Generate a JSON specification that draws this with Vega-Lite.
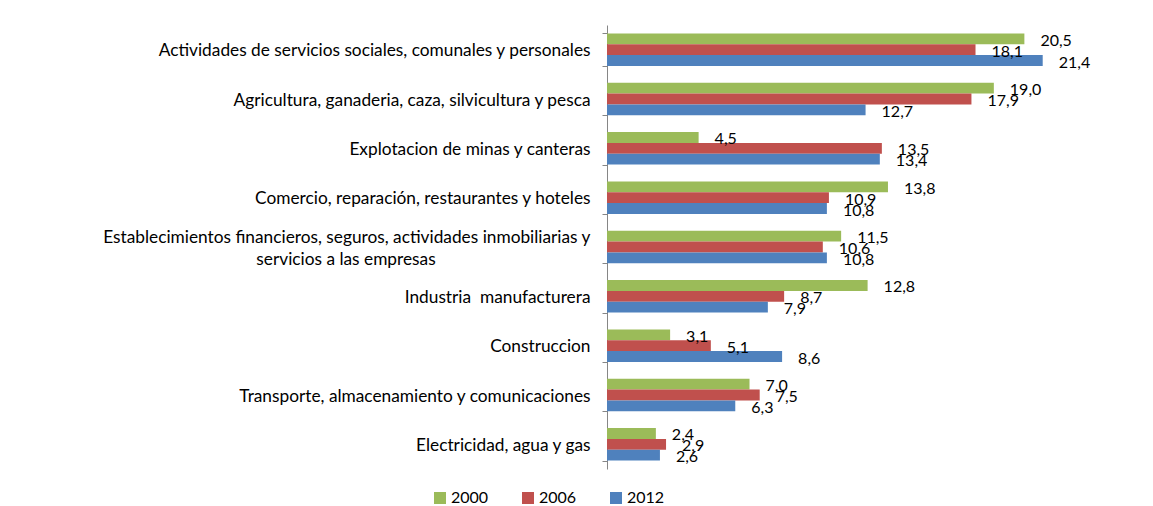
{
  "$schema": "https://vega.github.io/schema/vega-lite/v6.json",
  "width": 509,
  "height": 444,
  "autosize": {"type": "none"},
  "padding": {"left": 607, "top": 25, "right": 37, "bottom": 37},
  "config": {
    "view": {"stroke": null},
    "font": "Lato",
    "locale": {"number": {"decimal": ",", "thousands": ".", "grouping": [3], "currency": ["", " €"]}}
  },
  "data": {
    "values": [
      {"sector": "Actividades de servicios sociales, comunales y personales", "year": "2000", "value": 20.5},
      {"sector": "Actividades de servicios sociales, comunales y personales", "year": "2006", "value": 18.1},
      {"sector": "Actividades de servicios sociales, comunales y personales", "year": "2012", "value": 21.4},
      {"sector": "Agricultura, ganaderia, caza, silvicultura y pesca", "year": "2000", "value": 19.0},
      {"sector": "Agricultura, ganaderia, caza, silvicultura y pesca", "year": "2006", "value": 17.9},
      {"sector": "Agricultura, ganaderia, caza, silvicultura y pesca", "year": "2012", "value": 12.7},
      {"sector": "Explotacion de minas y canteras", "year": "2000", "value": 4.5},
      {"sector": "Explotacion de minas y canteras", "year": "2006", "value": 13.5},
      {"sector": "Explotacion de minas y canteras", "year": "2012", "value": 13.4},
      {"sector": "Comercio, reparación, restaurantes y hoteles", "year": "2000", "value": 13.8},
      {"sector": "Comercio, reparación, restaurantes y hoteles", "year": "2006", "value": 10.9},
      {"sector": "Comercio, reparación, restaurantes y hoteles", "year": "2012", "value": 10.8},
      {"sector": "Establecimientos financieros, seguros, actividades inmobiliarias y servicios a las empresas", "year": "2000", "value": 11.5},
      {"sector": "Establecimientos financieros, seguros, actividades inmobiliarias y servicios a las empresas", "year": "2006", "value": 10.6},
      {"sector": "Establecimientos financieros, seguros, actividades inmobiliarias y servicios a las empresas", "year": "2012", "value": 10.8},
      {"sector": "Industria  manufacturera", "year": "2000", "value": 12.8},
      {"sector": "Industria  manufacturera", "year": "2006", "value": 8.7},
      {"sector": "Industria  manufacturera", "year": "2012", "value": 7.9},
      {"sector": "Construccion", "year": "2000", "value": 3.1},
      {"sector": "Construccion", "year": "2006", "value": 5.1},
      {"sector": "Construccion", "year": "2012", "value": 8.6},
      {"sector": "Transporte, almacenamiento y comunicaciones", "year": "2000", "value": 7.0},
      {"sector": "Transporte, almacenamiento y comunicaciones", "year": "2006", "value": 7.5},
      {"sector": "Transporte, almacenamiento y comunicaciones", "year": "2012", "value": 6.3},
      {"sector": "Electricidad, agua y gas", "year": "2000", "value": 2.4},
      {"sector": "Electricidad, agua y gas", "year": "2006", "value": 2.9},
      {"sector": "Electricidad, agua y gas", "year": "2012", "value": 2.6}
    ]
  },
  "encoding": {
    "y": {
      "field": "sector",
      "type": "nominal",
      "sort": null,
      "scale": {"paddingInner": 0.34, "paddingOuter": 0.17},
      "axis": {
        "title": null,
        "labelFontSize": 17.3,
        "labelColor": "#000000",
        "labelPadding": 12,
        "labelLimit": 0,
        "labelLineHeight": 22,
        "labelOffset": {"condition": {"test": "datum.value == 'Establecimientos financieros, seguros, actividades inmobiliarias y servicios a las empresas'", "value": -10}, "value": 1},
        "labelExpr": "datum.label == 'Establecimientos financieros, seguros, actividades inmobiliarias y servicios a las empresas' ? ['Establecimientos financieros, seguros, actividades inmobiliarias y', 'servicios a las empresas\u00a0\u00a0\u00a0\u00a0\u00a0\u00a0\u00a0\u00a0\u00a0\u00a0\u00a0\u00a0\u00a0\u00a0\u00a0\u00a0\u00a0\u00a0\u00a0\u00a0\u00a0\u00a0\u00a0\u00a0\u00a0\u00a0\u00a0\u00a0\u00a0\u00a0\u00a0\u00a0\u00a0\u00a0\u00a0\u200b'] : datum.label == 'Industria  manufacturera' ? 'Industria\u00a0 manufacturera' : datum.label",
        "tickBand": "extent",
        "tickSize": 5,
        "tickColor": "#868686",
        "domainColor": "#868686"
      }
    },
    "yOffset": {"field": "year", "type": "nominal", "sort": ["2000", "2006", "2012"]},
    "x": {"field": "value", "type": "quantitative", "scale": {"domain": [0, 25]}, "axis": null}
  },
  "layer": [
    {
      "mark": {"type": "bar"},
      "encoding": {
        "color": {
          "field": "year",
          "type": "nominal",
          "scale": {"domain": ["2000", "2006", "2012"], "range": ["#9BBB59", "#C0504D", "#4F81BD"]},
          "legend": {
            "title": null,
            "orient": "none",
            "legendX": -175,
            "legendY": 465,
            "direction": "horizontal",
            "columnPadding": 31,
            "symbolType": "square",
            "symbolSize": 144,
            "symbolStrokeWidth": 0,
            "labelFontSize": 16,
            "labelColor": "#000000",
            "labelOffset": 3,
            "padding": 0
          }
        }
      }
    },
    {
      "mark": {"type": "text", "align": "left", "dx": 16, "dy": 2, "fontSize": 16, "color": "#000000"},
      "encoding": {"text": {"field": "value", "type": "quantitative", "format": ".1f"}}
    }
  ]
}
